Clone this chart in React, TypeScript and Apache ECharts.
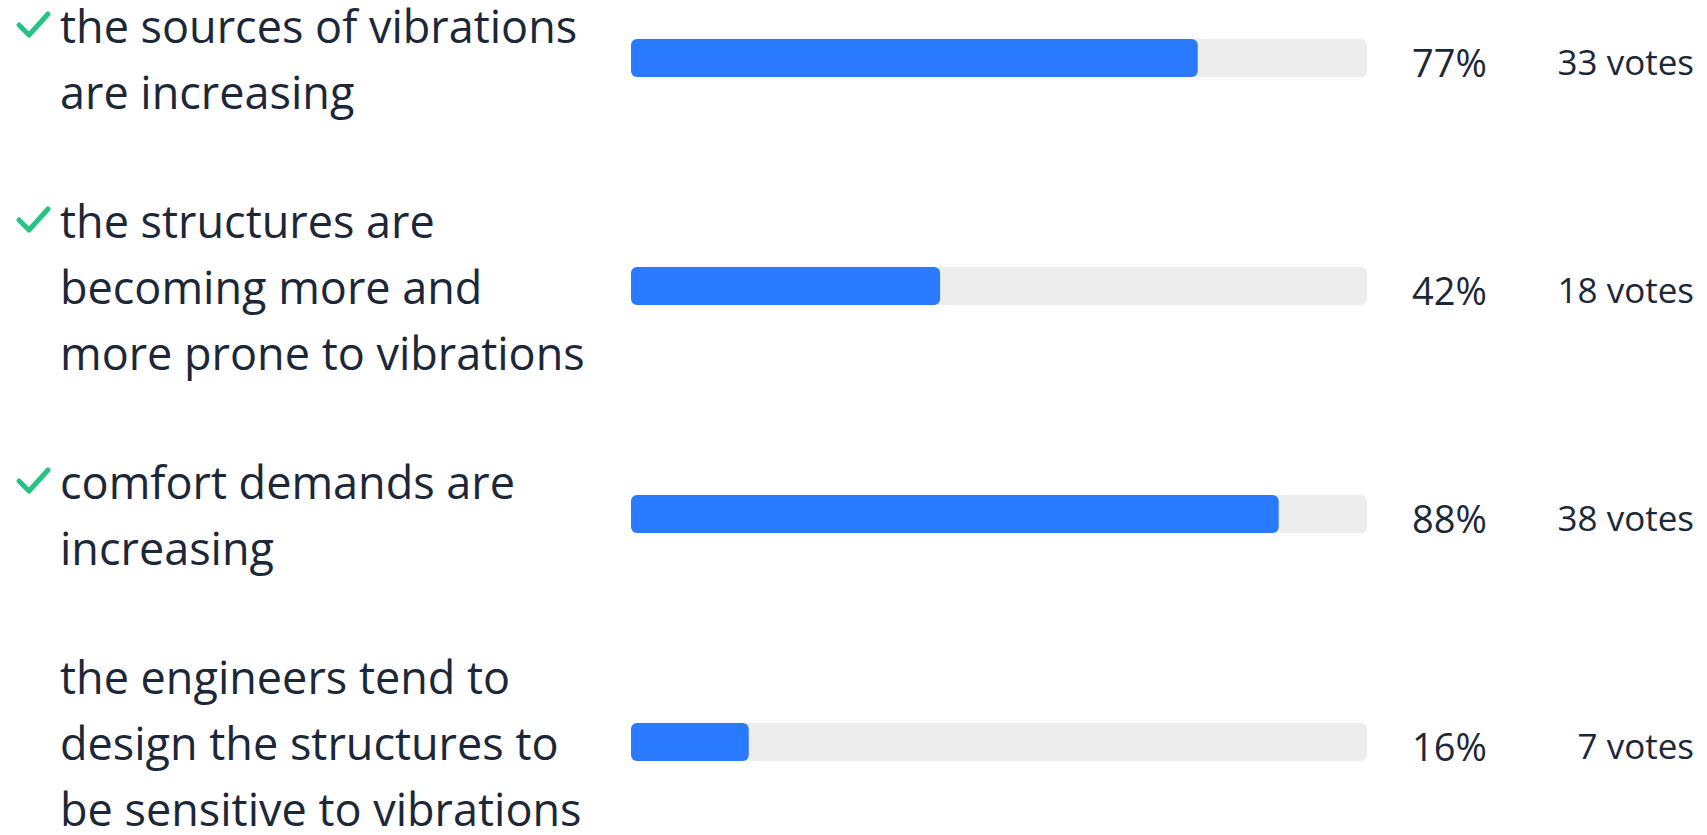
import React, { useEffect, useRef } from "react";
import * as echarts from "echarts";

const categories = [
  "the sources of vibrations\nare increasing",
  "the structures are\nbecoming more and\nmore prone to vibrations",
  "comfort demands are\nincreasing",
  "the engineers tend to\ndesign the structures to\nbe sensitive to vibrations",
];
const checked = [true, true, true, false];
const percents = [77, 42, 88, 16];
const votes = [33, 18, 38, 7];

const TEXT = "#1c2838";
const FONT = "Open Sans";
const LINE_H = 66;

export default function App() {
  const ref = useRef<HTMLDivElement>(null);
  useEffect(() => {
    const chart = echarts.init(ref.current!, null, { renderer: "svg" });
    const rightLabels = percents.map((p, i) => `{p|${p}%}{v|${votes[i]} votes}`);
    chart.setOption({
      animation: false,
      grid: { left: 631, right: 340, top: 58, bottom: 93, outerBoundsMode: "none", containLabel: false },
      xAxis: { type: "value", min: 0, max: 100, show: false },
      yAxis: [
        {
          type: "category",
          inverse: true,
          boundaryGap: false,
          data: categories,
          axisLine: { show: false },
          axisTick: { show: false },
          axisLabel: {
            align: "left",
            margin: 571,
            padding: [30, 0, 0, 0],
            fontSize: 45,
            lineHeight: LINE_H,
            color: TEXT,
            fontFamily: FONT,
          },
        },
        {
          type: "category",
          inverse: true,
          boundaryGap: false,
          position: "right",
          data: rightLabels,
          axisLine: { show: false },
          axisTick: { show: false },
          axisLabel: {
            align: "right",
            margin: 327,
            padding: [7, 0, 0, 0],
            rich: {
              p: { width: 140, align: "left", fontSize: 38, color: TEXT, fontFamily: FONT },
              v: { width: 142, align: "right", fontSize: 35, color: TEXT, fontFamily: FONT },
            },
          },
        },
      ],
      series: [
        {
          type: "bar",
          data: percents,
          barWidth: 38,
          clip: false,
          itemStyle: { color: "#2a7aff", borderRadius: 6 },
          showBackground: true,
          backgroundStyle: { color: "#ededed", borderRadius: 6 },
        },
      ],
    });
    const checks: any[] = [];
    categories.forEach((c, i) => {
      if (!checked[i]) return;
      const yc = chart.convertToPixel({ yAxisIndex: 0 }, i) as number;
      const lines = c.split("\n").length;
      const top = yc + 7 - (lines * LINE_H) / 2 + LINE_H / 2 - 8;
      checks.push({
        type: "polyline",
        shape: { points: [[19, top + 1], [29, top + 11], [48, top - 10]] },
        style: { stroke: "#25c485", lineWidth: 5, fill: null, lineCap: "round", lineJoin: "round" },
      });
    });
    chart.setOption({ graphic: checks });
    return () => chart.dispose();
  }, []);
  return <div ref={ref} style={{ width: 1707, height: 835, position: "absolute", left: 0, top: 0 }} />;
}
